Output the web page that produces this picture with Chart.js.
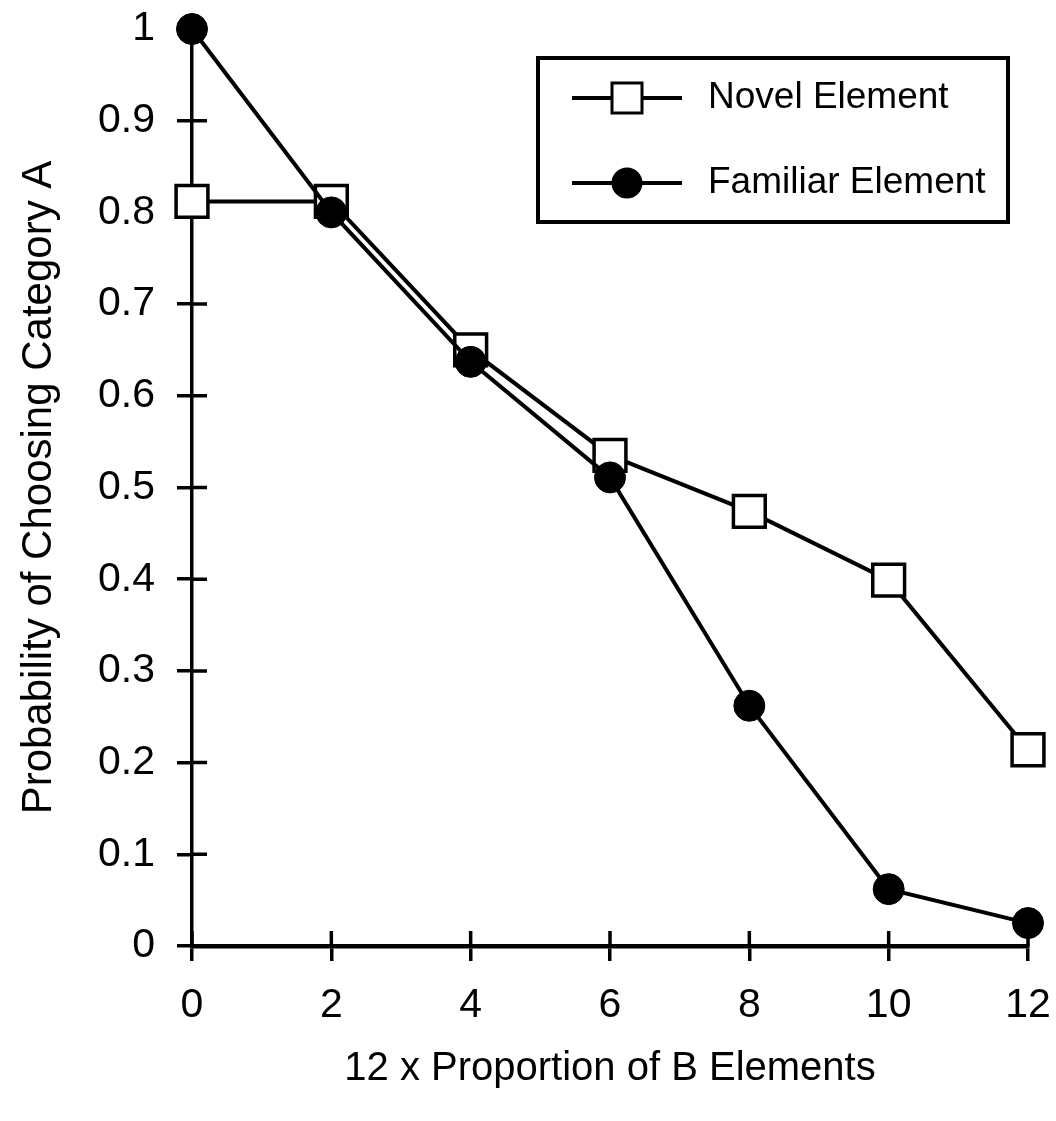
<!DOCTYPE html>
<html>
<head>
<meta charset="utf-8">
<script src="https://cdn.jsdelivr.net/npm/chart.js@4/dist/chart.umd.min.js"></script>
<style>
  html, body { margin: 0; padding: 0; background: #fff; }
  #wrap { width: 1056px; height: 1121px; position: relative; }
</style>
</head>
<body>
<div id="wrap"><canvas id="chart"></canvas></div>
<script>
const xValues = [0, 2, 4, 6, 8, 10, 12];
const novelValues = [0.812, 0.812, 0.65, 0.535, 0.474, 0.399, 0.214];
const familiarValues = [1.0, 0.80, 0.637, 0.511, 0.262, 0.062, 0.025];
const seriesLabels = ['Novel Element', 'Familiar Element'];
const yTicks = [0, 0.1, 0.2, 0.3, 0.4, 0.5, 0.6, 0.7, 0.8, 0.9, 1];
const xTicks = [0, 2, 4, 6, 8, 10, 12];

const FONT = '"Liberation Sans", Arial, Helvetica, sans-serif';

// ticks in the picture cross the axis, chart.js only draws the outer half
const innerTicks = {
    id: 'innerTicks',
    beforeDatasetsDraw(chart) {
        const ctx = chart.ctx;
        const xs = chart.scales.x;
        const ys = chart.scales.y;
        ctx.save();
        ctx.strokeStyle = '#000';
        ctx.lineWidth = 3.5;
        ctx.beginPath();
        yTicks.forEach(v => {
            const py = ys.getPixelForValue(v);
            ctx.moveTo(xs.left, py);
            ctx.lineTo(xs.left + 15, py);
        });
        xTicks.forEach(v => {
            const px = xs.getPixelForValue(v);
            ctx.moveTo(px, ys.bottom);
            ctx.lineTo(px, ys.bottom - 15);
        });
        ctx.stroke();
        ctx.restore();
    }
};

const boxLegend = {
    id: 'boxLegend',
    afterDraw(chart) {
        const ctx = chart.ctx;
        ctx.save();
        ctx.strokeStyle = '#000';
        ctx.lineWidth = 4;
        ctx.strokeRect(538, 58, 470, 164);
        const rows = [98, 183];
        seriesLabels.forEach((label, i) => {
            const y = rows[i];
            ctx.lineWidth = 4;
            ctx.beginPath();
            ctx.moveTo(572, y);
            ctx.lineTo(682, y);
            ctx.stroke();
            if (i === 0) {
                ctx.fillStyle = '#fff';
                ctx.lineWidth = 3;
                ctx.fillRect(612, y - 15, 30, 30);
                ctx.strokeRect(612, y - 15, 30, 30);
            } else {
                ctx.fillStyle = '#000';
                ctx.beginPath();
                ctx.arc(627, y, 15.5, 0, Math.PI * 2);
                ctx.fill();
            }
            ctx.fillStyle = '#000';
            ctx.font = '37px ' + FONT;
            ctx.textBaseline = 'middle';
            ctx.textAlign = 'left';
            ctx.fillText(label, 708, y);
        });
        ctx.restore();
    }
};

document.addEventListener('DOMContentLoaded', () => {
    const ctx = document.getElementById('chart').getContext('2d');

    new Chart(ctx, {
        type: 'line',
        data: {
            datasets: [{
                label: seriesLabels[0],
                data: xValues.map((x, i) => ({ x: x, y: novelValues[i] })),
                borderColor: '#000',
                borderWidth: 4,
                pointStyle: 'rect',
                pointRadius: 22.5,
                pointBackgroundColor: '#fff',
                pointBorderColor: '#000',
                pointBorderWidth: 3.5,
                tension: 0,
                order: 1
            }, {
                label: seriesLabels[1],
                data: xValues.map((x, i) => ({ x: x, y: familiarValues[i] })),
                borderColor: '#000',
                borderWidth: 4,
                pointStyle: 'circle',
                pointRadius: 15.5,
                pointBackgroundColor: '#000',
                pointBorderColor: '#000',
                pointBorderWidth: 1,
                tension: 0,
                order: 0
            }]
        },
        options: {
            responsive: true,
            maintainAspectRatio: false,
            animation: false,
            clip: false,
            layout: { padding: { top: 29, right: 28, left: 0, bottom: 0 } },
            plugins: {
                legend: { display: false },
                tooltip: { enabled: false }
            },
            scales: {
                x: {
                    type: 'linear',
                    min: 0,
                    max: 12,
                    afterFit: scale => {
                        scale.height = 175;
                        scale.paddingLeft = 0;
                        scale.paddingRight = 0;
                    },
                    afterBuildTicks: scale => { scale.ticks = xTicks.map(v => ({ value: v })); },
                    grid: {
                        drawOnChartArea: false,
                        drawTicks: true,
                        tickLength: 15,
                        lineWidth: 3.5,
                        color: '#000'
                    },
                    border: { color: '#000', width: 4.5 },
                    ticks: {
                        color: '#000',
                        padding: 20,
                        font: { family: FONT, size: 41 }
                    },
                    title: {
                        display: true,
                        text: '12 x Proportion of B Elements',
                        color: '#000',
                        font: { family: FONT, size: 40 },
                        padding: { top: 0, bottom: 28 }
                    }
                },
                y: {
                    type: 'linear',
                    min: 0,
                    max: 1,
                    afterFit: scale => {
                        scale.width = 192;
                        scale.paddingTop = 0;
                        scale.paddingBottom = 0;
                    },
                    afterBuildTicks: scale => { scale.ticks = yTicks.map(v => ({ value: v })); },
                    grid: {
                        drawOnChartArea: false,
                        drawTicks: true,
                        tickLength: 15,
                        lineWidth: 3.5,
                        color: '#000'
                    },
                    border: { color: '#000', width: 3.5 },
                    ticks: {
                        color: '#000',
                        padding: 22,
                        font: { family: FONT, size: 41 },
                        callback: v => String(v)
                    },
                    title: {
                        display: true,
                        text: 'Probability of Choosing Category A',
                        color: '#000',
                        font: { family: FONT, size: 42 },
                        padding: { top: 14, bottom: 0 }
                    }
                }
            }
        },
        plugins: [innerTicks, boxLegend]
    });
});
</script>
</body>
</html>
